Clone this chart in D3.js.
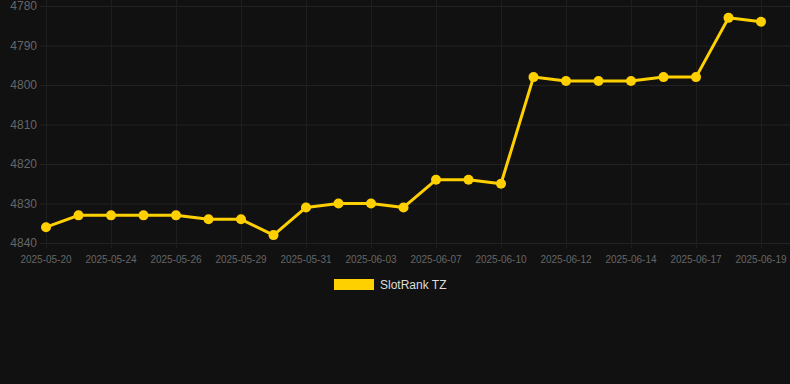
<!DOCTYPE html>
<html>
<head>
<meta charset="utf-8">
<script src="https://cdn.jsdelivr.net/npm/d3@7"></script>
<style>
  html, body { margin: 0; padding: 0; background: #111111; }
  svg { display: block; font-family: "Liberation Sans", Arial, Helvetica, sans-serif; }
</style>
</head>
<body>
<div id="chart"></div>
<script>
const width = 790;
const height = 384;

const dates = [
  "2025-05-20", "2025-05-22", "2025-05-24", "2025-05-25", "2025-05-26", "2025-05-28",
  "2025-05-29", "2025-05-30", "2025-05-31", "2025-06-01", "2025-06-03", "2025-06-05",
  "2025-06-07", "2025-06-08", "2025-06-10", "2025-06-11", "2025-06-12", "2025-06-13",
  "2025-06-14", "2025-06-16", "2025-06-17", "2025-06-18", "2025-06-19"
];
const ranks = [
  4836, 4833, 4833, 4833, 4833, 4834, 4834, 4838, 4831, 4830, 4830, 4831,
  4824, 4824, 4825, 4798, 4799, 4799, 4799, 4798, 4798, 4783, 4784
];
const yTicks = [4780, 4790, 4800, 4810, 4820, 4830, 4840];
const seriesName = "SlotRank TZ";
const lineColor = "#ffd000";

const svg = d3.select("#chart").append("svg")
  .attr("width", width).attr("height", height)
  .style("background", "#111111");

const x = d3.scalePoint().domain(dates).range([46, 761]);
const y = d3.scaleLinear().domain([4780, 4840]).range([6, 243]);

// grid
svg.append("g").selectAll("line")
  .data(yTicks)
  .enter().append("line")
  .attr("x1", 40).attr("x2", width)
  .attr("y1", d => y(d) + 0.5).attr("y2", d => y(d) + 0.5)
  .style("stroke", "#222");

const labeled = dates.filter((d, i) => i % 2 == 0);
svg.append("g").selectAll("line")
  .data(labeled)
  .enter().append("line")
  .attr("x1", d => Math.round(x(d)) + 0.5).attr("x2", d => Math.round(x(d)) + 0.5)
  .attr("y1", 0).attr("y2", 248)
  .style("stroke", "#1e1e1e");

// y axis labels
svg.append("g").selectAll("text")
  .data(yTicks)
  .enter().append("text")
  .attr("x", 37).attr("y", d => y(d))
  .attr("dy", "0.35em")
  .attr("text-anchor", "end")
  .style("font-size", "12px")
  .style("fill", "#666")
  .text(d => d);

// x axis labels
svg.append("g").selectAll("text")
  .data(labeled)
  .enter().append("text")
  .attr("x", d => x(d)).attr("y", 259)
  .attr("dy", "0.35em")
  .attr("text-anchor", "middle")
  .style("font-size", "10px")
  .style("fill", "#666")
  .text(d => d);

// line + points
const line = d3.line()
  .x((d, i) => x(dates[i]))
  .y(d => y(d));

svg.append("path")
  .datum(ranks)
  .attr("d", line)
  .style("fill", "none")
  .style("stroke", lineColor)
  .style("stroke-width", 3)
  .style("stroke-linejoin", "round");

svg.append("g").selectAll("circle")
  .data(ranks)
  .enter().append("circle")
  .attr("cx", (d, i) => x(dates[i]))
  .attr("cy", d => y(d))
  .attr("r", 5)
  .style("fill", lineColor);

// legend
const legend = svg.append("g").attr("transform", "translate(334,279)");
legend.append("rect")
  .attr("width", 40).attr("height", 11)
  .style("fill", lineColor);
legend.append("text")
  .attr("x", 46).attr("y", 6)
  .attr("dy", "0.35em")
  .style("font-size", "12px")
  .style("fill", "#ddd")
  .text(seriesName);
</script>
</body>
</html>
